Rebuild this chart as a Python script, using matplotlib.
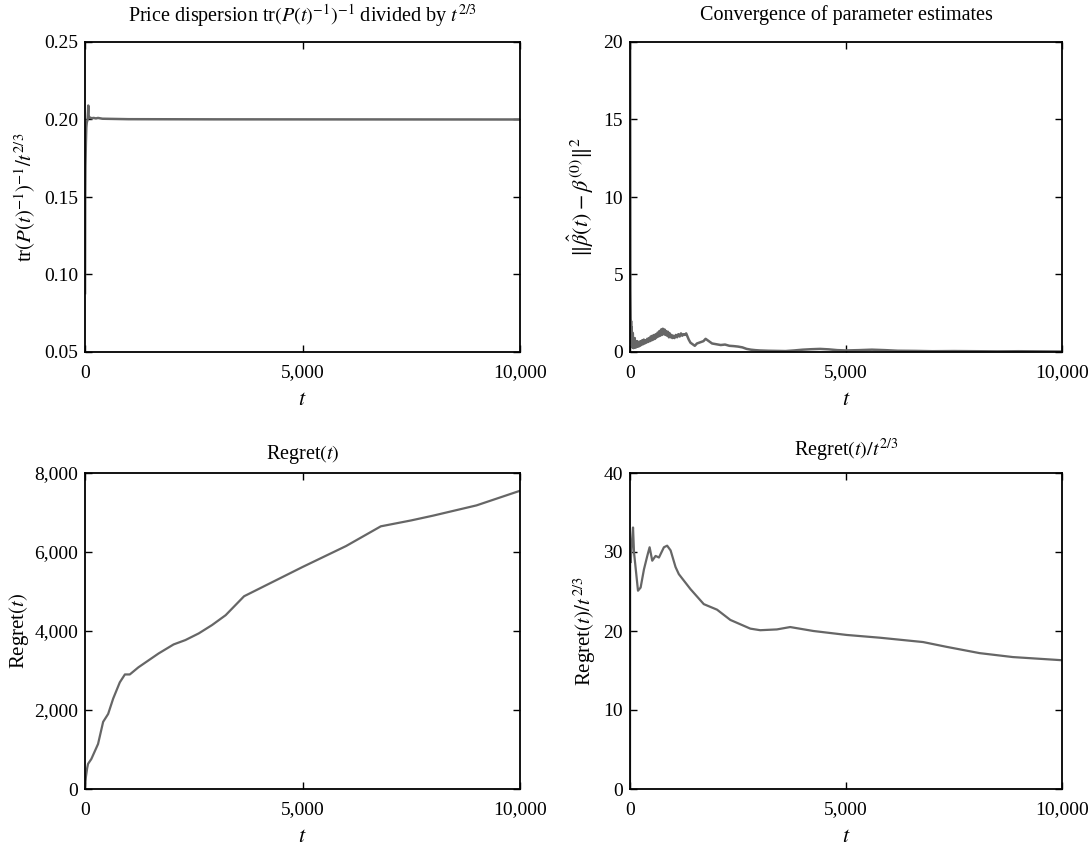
import matplotlib
matplotlib.use("Agg")
import matplotlib.pyplot as plt
from matplotlib.ticker import FuncFormatter

# ---------------- data ----------------
# Top-left: price dispersion tr(P(t)^-1)^-1 / t^(2/3)
disp_t = [1, 3, 5, 10, 20, 30, 40, 50, 60, 70, 75, 80, 90, 100, 120, 150, 200,
          250, 300, 400, 600, 1000, 3000, 10000]
disp_v = [0.088, 0.12, 0.15, 0.17, 0.185, 0.195, 0.198, 0.199, 0.200, 0.205, 0.209,
          0.203, 0.2015, 0.201, 0.2012, 0.2008, 0.2010, 0.2007, 0.2010, 0.2005,
          0.2004, 0.2002, 0.2001, 0.2000]

# Top-right: ||beta_hat(t) - beta0||^2
conv_t = [1, 3, 5, 8, 10, 15, 20, 25, 30, 35, 40, 45, 50, 55, 60, 65, 70, 75, 80,
          85, 90, 95, 100, 110, 120, 130, 140, 150, 160, 170, 180, 190, 200, 215,
          230, 245, 260, 280, 300, 320, 340, 360, 380, 400, 420, 440, 460, 480, 500,
          520, 540, 560, 580, 600, 620, 640, 660, 680, 700, 720, 740, 760, 780, 800,
          820, 840, 860, 880, 900, 920, 940, 960, 980, 1000, 1030, 1060, 1090, 1120,
          1150, 1180, 1210, 1240, 1270, 1300, 1330, 1360, 1400, 1450, 1500, 1550,
          1600, 1650, 1700, 1750, 1800, 1850, 1900, 2000, 2100, 2200, 2300, 2400,
          2500, 2600, 2700, 2800, 2900, 3000, 3200, 3400, 3600, 3800, 4000, 4200,
          4400, 4600, 4800, 5000, 5300, 5600, 5900, 6200, 6600, 7000, 7500, 8000,
          8500, 9000, 9500, 10000]
conv_v = [25, 20, 12, 6, 4, 2.2, 1.0, 2.0, 0.6, 1.6, 0.5, 1.3, 0.3, 1.1, 0.4, 1.2,
          0.5, 0.9, 0.25, 0.8, 0.3, 0.75, 0.35, 0.9, 0.3, 0.7, 0.3, 0.6, 0.35, 0.7,
          0.4, 0.6, 0.35, 0.65, 0.4, 0.7, 0.45, 0.75, 0.5, 0.8, 0.55, 0.75, 0.6, 0.85,
          0.65, 0.9, 0.7, 1.0, 0.75, 1.05, 0.8, 1.1, 0.85, 1.15, 0.95, 1.25, 1.0,
          1.35, 1.05, 1.45, 1.1, 1.5, 1.15, 1.45, 1.1, 1.35, 1.05, 1.3, 0.95, 1.2,
          0.95, 1.1, 0.9, 1.05, 0.9, 1.1, 0.95, 1.15, 1.0, 1.2, 1.05, 1.15, 1.1, 1.2,
          1.0, 0.8, 0.6, 0.5, 0.4, 0.55, 0.6, 0.65, 0.7, 0.85, 0.75, 0.65, 0.55, 0.5,
          0.45, 0.48, 0.4, 0.38, 0.35, 0.3, 0.2, 0.15, 0.12, 0.1, 0.08, 0.07, 0.06,
          0.1, 0.15, 0.18, 0.2, 0.17, 0.12, 0.1, 0.12, 0.15, 0.12, 0.08, 0.07, 0.05,
          0.06, 0.05, 0.04, 0.05, 0.04, 0.03]

# Bottom-left: Regret(t)
reg_t = [0, 20, 50, 70, 146, 300, 417, 532, 648, 800, 917, 1030, 1227, 1690, 2037,
         2307, 2616, 2920, 3233, 3657, 3730, 5000, 6000, 6800, 7500, 8000, 9000, 10000]
reg_v = [0, 300, 530, 636, 760, 1140, 1700, 1900, 2290, 2700, 2900, 2900, 3080, 3430,
         3660, 3770, 3940, 4150, 4400, 4880, 4920, 5620, 6150, 6650, 6800, 6920, 7180,
         7550]

# Bottom-right: Regret(t)/t^(2/3)
rn_t = [0, 3, 15, 40, 70, 92, 185, 246, 323, 400, 454, 515, 592, 670, 785, 860, 940,
        1054, 1130, 1400, 1708, 2015, 2323, 2785, 3015, 3400, 3708, 4246, 5015, 5785,
        6785, 7323, 8092, 8862, 10000]
rn_v = [0, 29.5, 28.7, 31.0, 33.1, 30.0, 25.1, 25.5, 27.8, 29.5, 30.6, 28.9, 29.5,
        29.3, 30.6, 30.8, 30.2, 28.1, 27.2, 25.3, 23.4, 22.7, 21.4, 20.3, 20.1, 20.2,
        20.5, 20.0, 19.5, 19.15, 18.6, 18.0, 17.2, 16.7, 16.3]

x_ticks = [0, 5000, 10000]

# ---------------- style ----------------
plt.rcParams['font.family'] = ['Liberation Serif', 'DejaVu Serif']
plt.rcParams['mathtext.fontset'] = 'stix'

LINE_C = '#666666'
TICK_FS = 14
TITLE_FS = 14.5
LABEL_FS = 15
W, H = 1091, 846
fig = plt.figure(figsize=(W / 100, H / 100), dpi=100)

def frac_box(left, top, right, bottom):
    return [left / W, 1 - bottom / H, (right - left) / W, (bottom - top) / H]

comma = FuncFormatter(lambda v, p: f"{int(round(v)):,}")

def style(ax, ylim, yticks, yfmt):
    ax.set_xlim(0, 10000)
    ax.set_ylim(*ylim)
    ax.set_xticks(x_ticks)
    ax.set_yticks(yticks)
    ax.xaxis.set_major_formatter(comma)
    ax.yaxis.set_major_formatter(yfmt)
    ax.tick_params(direction='in', top=True, right=True, length=5, width=1,
                   labelsize=TICK_FS, pad=5)
    ax.tick_params(axis='x', pad=9)
    for s in ax.spines.values():
        s.set_linewidth(1.3)
    ax.set_xlabel('$t$', fontsize=16, labelpad=7)

ax1 = fig.add_axes(frac_box(85, 42, 520, 352))
ax1.plot(disp_t, disp_v, color=LINE_C, lw=1.8)
style(ax1, (0.05, 0.25), [0.05, 0.10, 0.15, 0.20, 0.25],
      FuncFormatter(lambda v, p: f"{v:.2f}"))
ax1.set_title(r'Price dispersion tr$(P(t)^{-1})^{-1}$ divided by $t^{2/3}$',
              fontsize=TITLE_FS, pad=15)
ax1.set_ylabel(r'tr$(P(t)^{-1})^{-1}/t^{2/3}$', fontsize=LABEL_FS, labelpad=4)

ax2 = fig.add_axes(frac_box(630, 42, 1062, 352))
ax2.plot(conv_t, conv_v, color=LINE_C, lw=1.8)
style(ax2, (0, 20), [0, 5, 10, 15, 20], FuncFormatter(lambda v, p: f"{v:g}"))
ax2.set_title('Convergence of parameter estimates', fontsize=TITLE_FS, pad=16)
ax2.set_ylabel(r'$\|\hat{\beta}(t)-\beta^{(0)}\|^2$', fontsize=16, labelpad=5)

ax3 = fig.add_axes(frac_box(85, 473, 520, 789))
ax3.plot(reg_t, reg_v, color=LINE_C, lw=1.6)
style(ax3, (0, 8000), [0, 2000, 4000, 6000, 8000], comma)
ax3.set_title('Regret$(t)$', fontsize=TITLE_FS, pad=10)
ax3.set_ylabel('Regret$(t)$', fontsize=LABEL_FS, labelpad=2)

ax4 = fig.add_axes(frac_box(630, 473, 1062, 789))
ax4.plot(rn_t, rn_v, color=LINE_C, lw=1.6)
style(ax4, (0, 40), [0, 10, 20, 30, 40], FuncFormatter(lambda v, p: f"{v:g}"))
ax4.set_title(r'Regret$(t)/t^{2/3}$', fontsize=TITLE_FS, pad=12)
ax4.set_ylabel(r'Regret$(t)/t^{\,2/3}$', fontsize=LABEL_FS, labelpad=4)

fig.savefig('out.png', dpi=100)
